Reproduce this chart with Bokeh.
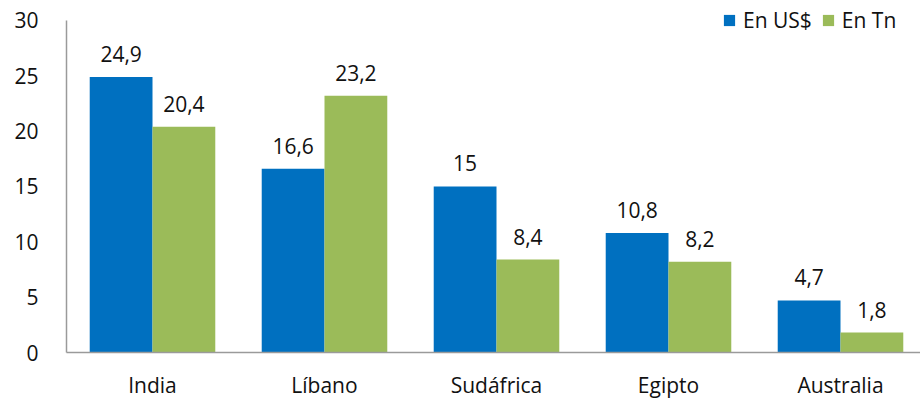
from bokeh.plotting import figure
from bokeh.models import ColumnDataSource, Range1d, Legend, LegendItem, FixedTicker, LabelSet
from bokeh.transform import dodge
from bokeh.core.properties import value
from bokeh.embed import file_html
from bokeh.resources import INLINE

countries = ["India", "Líbano", "Sudáfrica", "Egipto", "Australia"]
usd = [24.9, 16.6, 15.0, 10.8, 4.7]
tn = [20.4, 23.2, 8.4, 8.2, 1.8]
series_names = ["En US$", "En Tn"]
y_ticks = [0, 5, 10, 15, 20, 25, 30]

def fmt(v):
    return f"{v:g}".replace(".", ",")

xpos = [i + 0.5 for i in range(len(countries))]

src = ColumnDataSource(dict(
    x=xpos, usd=usd, tn=tn,
    usd_lbl=[fmt(v) for v in usd], tn_lbl=[fmt(v) for v in tn],
))

FONT = "Open Sans"
FS = "21px"
BLUE = "#0070C0"
GREEN = "#9BBB59"
TXT = "#111111"
W = 0.365

p = figure(frame_width=854, frame_height=346, output_backend="svg", toolbar_location=None,
           x_range=Range1d(0, 854 / 172), y_range=Range1d(0, 31.265),
           min_border_left=66, min_border_right=0, min_border_top=6, min_border_bottom=40)

p.outline_line_color = None
p.xgrid.grid_line_color = None
p.ygrid.grid_line_color = None

r1 = p.vbar(x=dodge("x", -W / 2), top="usd", width=W, source=src, color=BLUE, line_color=None)
r2 = p.vbar(x=dodge("x", W / 2), top="tn", width=W, source=src, color=GREEN, line_color=None)

for col, lbl, off in [("usd", "usd_lbl", -W / 2), ("tn", "tn_lbl", W / 2)]:
    ls = LabelSet(x=dodge("x", off), y=col, text=lbl, source=src,
                  text_align="center", text_baseline="bottom", y_offset=15,
                  text_font=value(FONT), text_font_size=FS, text_color=TXT)
    p.add_layout(ls)

for ax in (p.xaxis[0], p.yaxis[0]):
    ax.axis_line_color = "#9a9a9a"
    ax.axis_line_width = 1.5
    ax.major_tick_line_color = None
    ax.minor_tick_line_color = None
    ax.major_label_text_font = FONT
    ax.major_label_text_font_size = FS
    ax.major_label_text_color = TXT

p.xaxis[0].ticker = FixedTicker(ticks=xpos)
p.xaxis[0].major_label_overrides = {x: c for x, c in zip(xpos, countries)}
p.yaxis[0].ticker = FixedTicker(ticks=y_ticks)
p.yaxis[0].bounds = (0, 30)
p.yaxis[0].major_label_standoff = 22
p.xaxis[0].major_label_standoff = 12

legend = Legend(items=[LegendItem(label=series_names[0], renderers=[r1]),
                       LegendItem(label=series_names[1], renderers=[r2])],
                orientation="horizontal", location=(656, 318),
                glyph_width=14, glyph_height=14, label_standoff=7, spacing=9,
                padding=0, margin=0, border_line_color=None, background_fill_alpha=0,
                label_text_font=FONT, label_text_font_size=FS, label_text_color=TXT)
p.add_layout(legend)

open("out.html", "w").write(file_html(p, INLINE))
